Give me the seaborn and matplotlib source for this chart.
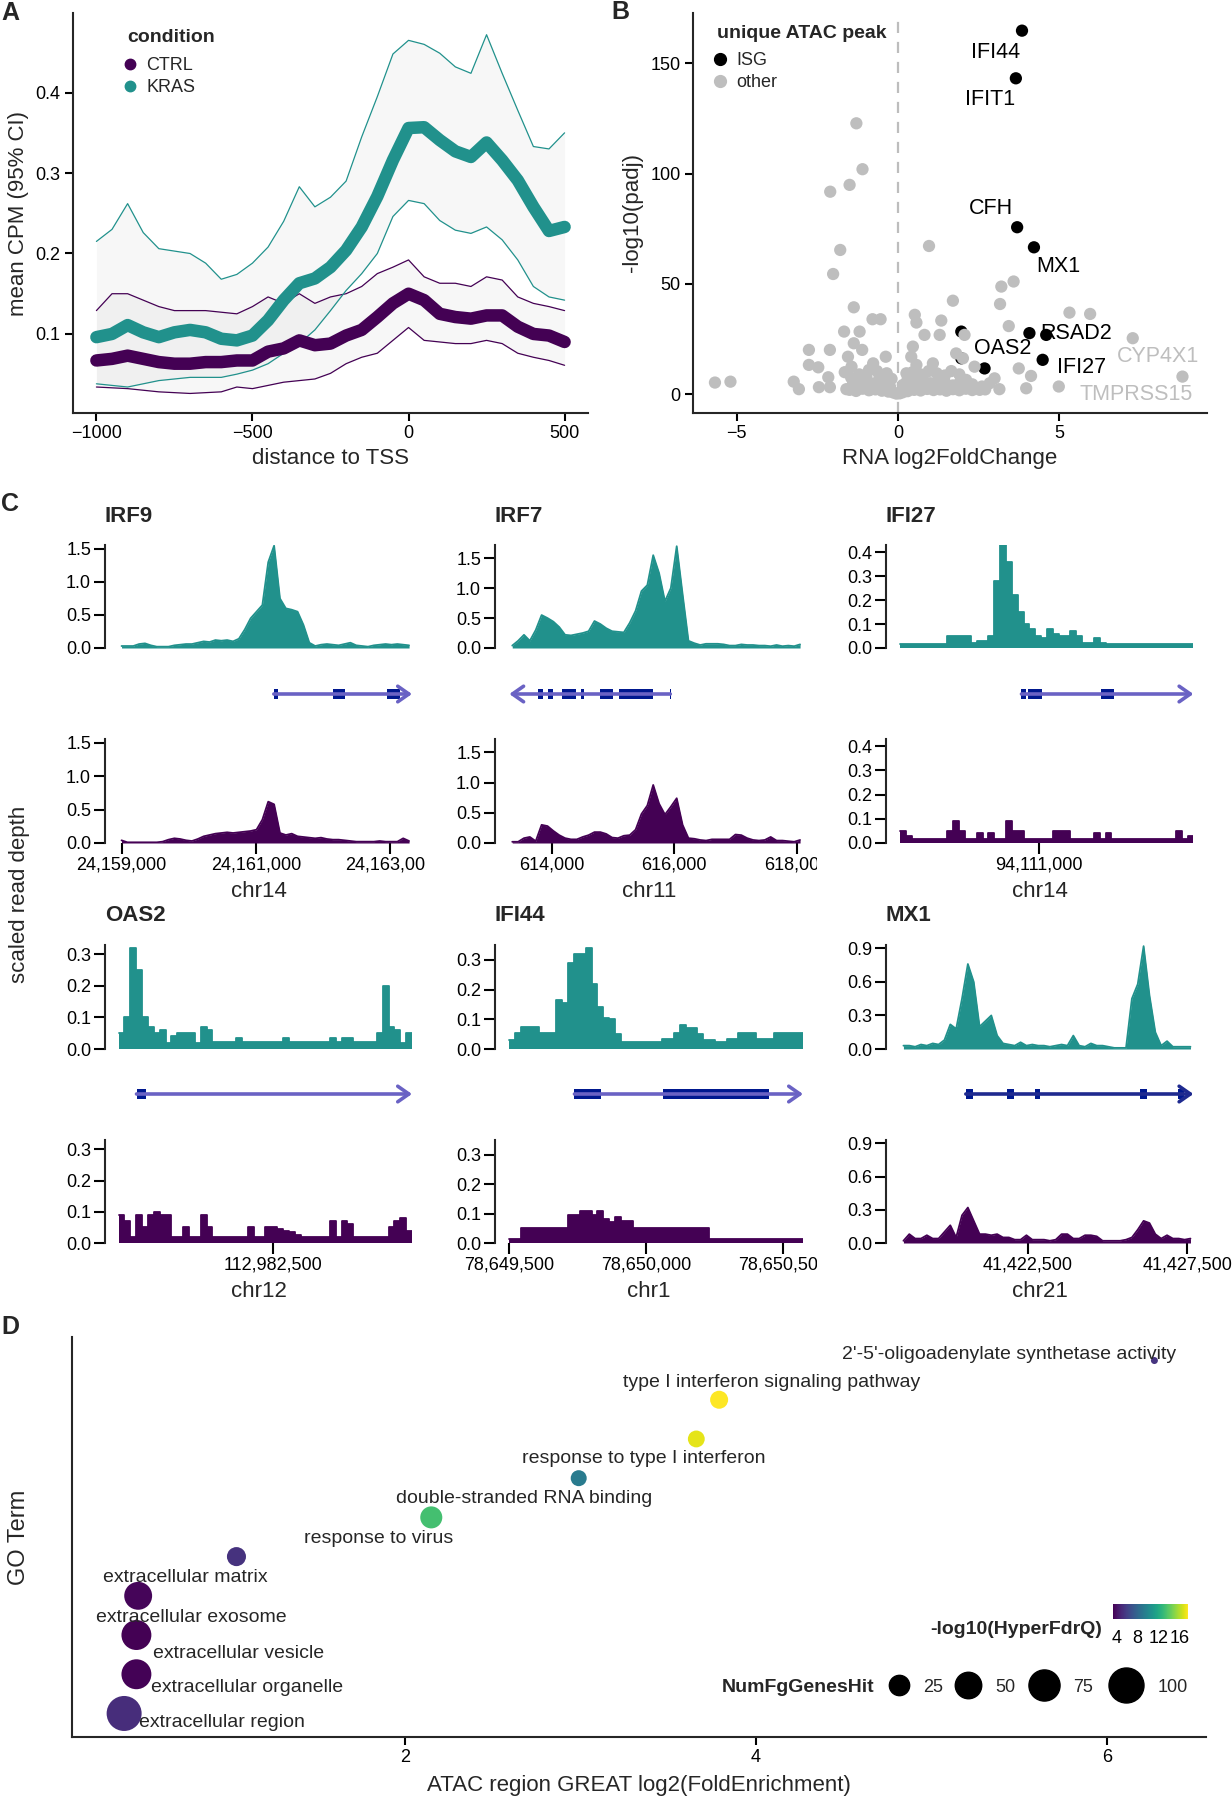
import numpy as np
import pandas as pd
import matplotlib
matplotlib.use("Agg")
import matplotlib.pyplot as plt
import seaborn as sns
from matplotlib.lines import Line2D
from matplotlib.colors import Normalize
from matplotlib.colorbar import ColorbarBase
from matplotlib.ticker import FuncFormatter
from matplotlib.transforms import Bbox, TransformedBbox

# ---------------- panel A: ATAC signal around TSS ----------------
tss_pos = list(range(-1000, 501, 50))
kras_mean = [0.096, 0.100, 0.111, 0.102, 0.096, 0.102, 0.105, 0.102, 0.094, 0.092, 0.098,
             0.117, 0.142, 0.163, 0.169, 0.183, 0.204, 0.233, 0.271, 0.316, 0.356,
             0.357, 0.341, 0.327, 0.320, 0.338, 0.316, 0.291, 0.258, 0.228, 0.233]
kras_hi = [0.215, 0.230, 0.262, 0.226, 0.206, 0.203, 0.200, 0.188, 0.168, 0.174, 0.188,
           0.208, 0.240, 0.283, 0.258, 0.270, 0.290, 0.345, 0.395, 0.448, 0.465,
           0.460, 0.449, 0.432, 0.424, 0.472, 0.424, 0.378, 0.333, 0.330, 0.350]
kras_lo = [0.038, 0.036, 0.034, 0.038, 0.042, 0.044, 0.046, 0.046, 0.046, 0.050, 0.055,
           0.063, 0.076, 0.088, 0.105, 0.129, 0.154, 0.175, 0.200, 0.246, 0.266,
           0.262, 0.241, 0.229, 0.225, 0.233, 0.217, 0.192, 0.159, 0.146, 0.142]
ctrl_mean = [0.067, 0.069, 0.073, 0.069, 0.065, 0.063, 0.063, 0.065, 0.065, 0.067, 0.067,
             0.078, 0.082, 0.092, 0.086, 0.088, 0.098, 0.105, 0.121, 0.138, 0.150,
             0.142, 0.125, 0.121, 0.119, 0.123, 0.123, 0.109, 0.100, 0.098, 0.090]
ctrl_hi = [0.129, 0.150, 0.150, 0.142, 0.134, 0.129, 0.129, 0.129, 0.127, 0.125, 0.134,
           0.146, 0.138, 0.150, 0.138, 0.146, 0.150, 0.159, 0.175, 0.183, 0.192,
           0.171, 0.163, 0.163, 0.159, 0.171, 0.167, 0.146, 0.138, 0.134, 0.129]
ctrl_lo = [0.034, 0.033, 0.032, 0.030, 0.028, 0.027, 0.026, 0.027, 0.028, 0.034, 0.032,
           0.036, 0.040, 0.042, 0.044, 0.051, 0.063, 0.071, 0.076, 0.092, 0.108,
           0.092, 0.090, 0.088, 0.088, 0.092, 0.088, 0.076, 0.071, 0.067, 0.061]

# ---------------- panel B: volcano ----------------
isg_lfc = [3.84, 3.65, 3.69, 4.21, 4.07, 4.59, 4.48, 2.68, 1.96, 1.96]
isg_padj = [164.8, 143.2, 75.7, 66.6, 27.7, 26.9, 15.6, 11.7, 28.4, 16.3]
other_lfc = [-1.29, -1.10, -1.50, -2.10, -1.79, 0.96,
             -5.67, -5.19, -3.23, -3.07, -2.45, -2.11, -2.16, -2.76, -2.11, -2.76, -2.47,
             -2.01, -1.37, -0.79, -0.54, -1.67, -1.19, -1.37, -1.55, -1.11, -1.44, -0.77,
             -0.38, -0.98, -0.57, -1.29, -1.60, -0.88, -0.36, 0.52, 0.57, 1.34, 1.70, 0.82,
             1.29, 0.46, 0.41, 0.57, 1.08, 0.26, 0.67, 0.15, 0.88, 1.29, 1.60, 1.80, 2.01,
             2.06, 2.37, 2.11, 2.53, 2.99, 3.14, 2.84, 3.20, 3.58, 3.16, 3.43, 3.74, 4.12,
             3.97, 4.98, 5.31, 5.95, 7.27, 8.81,
             -1.5, -1.3, -1.1, -0.9, -0.7, -0.5, -0.3, -0.15, -0.05, 0.05, 0.15, 0.3, 0.5,
             0.7, 0.9, 1.1, 1.3, 1.5, 1.7, 1.9, 2.1, 2.3, 2.7,
             -1.4, -1.1, -0.8, -0.6, -0.45, -0.25, 0.25, 0.4, 0.6, 0.8, 1.0, 1.2, 1.45, 1.7,
             1.9, 2.3, 2.6,
             -1.2, -0.9, -0.65, -0.35, -0.2, 0.3, 0.45, 0.7, 0.95, 1.2, 1.45, 1.65, 1.9,
             -1.45, -1.65]
other_padj = [122.8, 102.0, 94.9, 91.8, 65.4, 67.2,
              5.3, 5.7, 5.7, 2.3, 3.2, 3.2, 7.7, 20.1, 20.1, 13.3, 12.2,
              54.5, 39.4, 34.0, 34.0, 28.4, 28.4, 23.1, 17.0, 20.1, 12.5, 14.0,
              17.0, 8.0, 8.0, 5.0, 2.3, 2.0, 2.0, 36.0, 32.5, 33.4, 42.4, 26.9,
              26.9, 21.6, 17.0, 13.3, 14.0, 9.5, 6.5, 4.2, 3.5, 6.5, 3.5, 18.5, 16.3,
              26.9, 12.5, 6.5, 2.0, 7.2, 2.3, 5.0, 48.8, 51.1, 40.9, 30.9, 11.7, 8.3,
              2.7, 3.5, 37.0, 36.4, 25.4, 8.0,
              2.0, 1.5, 2.5, 1.8, 2.2, 1.6, 1.2, 0.8, 0.3, 0.4, 0.9, 1.4, 2.0,
              1.7, 2.4, 1.9, 2.2, 1.6, 2.3, 1.8, 2.5, 1.9, 2.2,
              4.5, 5.5, 4.8, 6.0, 5.0, 3.5, 3.0, 5.5, 4.0, 6.0, 5.0, 4.5, 5.5, 4.0,
              5.0, 4.5, 3.5,
              9.0, 11.0, 10.5, 9.5, 7.0, 7.0, 10.0, 9.0, 10.5, 9.5, 8.5, 10.5, 9.0,
              7.5, 10.0]
volcano_labels = ["IFI44", "IFIT1", "CFH", "MX1", "RSAD2", "OAS2", "IFI27", "CYP4X1", "TMPRSS15"]
volcano_label_isg = [True, True, True, True, True, True, True, False, False]

# ---------------- panel C: coverage tracks (50 bins each) ----------------
irf9_kras = [0.03, 0.03, 0.03, 0.06, 0.07, 0.04, 0.02, 0.02, 0.02, 0.04,
             0.05, 0.06, 0.06, 0.08, 0.10, 0.09, 0.12, 0.11, 0.12, 0.10,
             0.14, 0.28, 0.45, 0.55, 0.65, 1.30, 1.55, 0.75, 0.60, 0.58,
             0.55, 0.35, 0.08, 0.03, 0.05, 0.06, 0.05, 0.04, 0.06, 0.08,
             0.04, 0.03, 0.02, 0.04, 0.05, 0.06, 0.05, 0.06, 0.05, 0.04]
irf9_ctrl = [0.04, 0.01, 0.01, 0.01, 0.01, 0.01, 0.01, 0.02, 0.05, 0.07,
             0.06, 0.04, 0.03, 0.06, 0.10, 0.12, 0.14, 0.15, 0.16, 0.15,
             0.16, 0.17, 0.18, 0.20, 0.35, 0.62, 0.58, 0.15, 0.12, 0.14,
             0.10, 0.09, 0.08, 0.07, 0.08, 0.06, 0.05, 0.05, 0.04, 0.03,
             0.02, 0.02, 0.02, 0.02, 0.03, 0.02, 0.02, 0.02, 0.07, 0.03]
irf7_kras = [0.04, 0.12, 0.22, 0.12, 0.30, 0.55, 0.50, 0.44, 0.35, 0.22,
             0.21, 0.23, 0.25, 0.28, 0.45, 0.40, 0.33, 0.28, 0.27, 0.26,
             0.42, 0.62, 0.95, 1.05, 1.55, 1.25, 0.78, 1.00, 1.70, 0.90,
             0.12, 0.08, 0.05, 0.07, 0.07, 0.07, 0.06, 0.04, 0.04, 0.06,
             0.05, 0.05, 0.04, 0.04, 0.03, 0.05, 0.03, 0.04, 0.03, 0.06]
irf7_ctrl = [0.02, 0.02, 0.08, 0.10, 0.03, 0.30, 0.28, 0.20, 0.13, 0.08,
             0.06, 0.06, 0.10, 0.13, 0.18, 0.18, 0.15, 0.09, 0.08, 0.12,
             0.13, 0.22, 0.48, 0.62, 0.96, 0.65, 0.47, 0.60, 0.74, 0.30,
             0.08, 0.07, 0.05, 0.04, 0.06, 0.06, 0.06, 0.06, 0.14, 0.13,
             0.08, 0.05, 0.04, 0.05, 0.10, 0.04, 0.04, 0.03, 0.02, 0.05]
ifi27_kras = [0.015, 0.015, 0.015, 0.015, 0.015, 0.015, 0.015, 0.015, 0.05, 0.05,
              0.05, 0.05, 0.02, 0.03, 0.03, 0.05, 0.28, 0.43, 0.36, 0.22,
              0.15, 0.10, 0.08, 0.05, 0.04, 0.08, 0.06, 0.05, 0.05, 0.07,
              0.05, 0.02, 0.02, 0.04, 0.02, 0.015, 0.015, 0.015, 0.015, 0.015,
              0.015, 0.015, 0.015, 0.015, 0.015, 0.015, 0.015, 0.015, 0.015, 0.015]
ifi27_ctrl = [0.05, 0.03, 0.015, 0.015, 0.015, 0.015, 0.015, 0.015, 0.05, 0.09,
              0.05, 0.015, 0.015, 0.04, 0.015, 0.04, 0.015, 0.015, 0.09, 0.05,
              0.05, 0.015, 0.015, 0.015, 0.015, 0.015, 0.05, 0.05, 0.05, 0.015,
              0.015, 0.015, 0.015, 0.04, 0.015, 0.04, 0.015, 0.015, 0.015, 0.015,
              0.015, 0.015, 0.015, 0.015, 0.015, 0.015, 0.015, 0.05, 0.015, 0.03]
oas2_kras = [0.05, 0.10, 0.32, 0.25, 0.10, 0.07, 0.05, 0.06, 0.02, 0.04,
             0.05, 0.05, 0.05, 0.02, 0.07, 0.06, 0.023, 0.023, 0.023, 0.023,
             0.035, 0.023, 0.023, 0.023, 0.023, 0.023, 0.023, 0.023, 0.035, 0.023,
             0.023, 0.023, 0.023, 0.023, 0.023, 0.023, 0.035, 0.023, 0.035, 0.035,
             0.023, 0.023, 0.023, 0.023, 0.05, 0.20, 0.07, 0.06, 0.02, 0.05]
oas2_ctrl = [0.09, 0.07, 0.02, 0.09, 0.05, 0.09, 0.10, 0.09, 0.09, 0.02,
             0.02, 0.05, 0.02, 0.02, 0.09, 0.05, 0.02, 0.02, 0.02, 0.02,
             0.02, 0.02, 0.05, 0.02, 0.02, 0.05, 0.05, 0.045, 0.04, 0.035,
             0.025, 0.02, 0.02, 0.02, 0.02, 0.02, 0.07, 0.02, 0.07, 0.06,
             0.02, 0.02, 0.02, 0.02, 0.02, 0.02, 0.05, 0.07, 0.08, 0.04]
ifi44_kras = [0.03, 0.055, 0.075, 0.075, 0.075, 0.055, 0.055, 0.055, 0.165, 0.155,
              0.29, 0.32, 0.32, 0.34, 0.22, 0.14, 0.105, 0.10, 0.05, 0.025,
              0.025, 0.025, 0.025, 0.025, 0.025, 0.025, 0.035, 0.035, 0.055, 0.08,
              0.07, 0.07, 0.05, 0.03, 0.03, 0.025, 0.025, 0.035, 0.035, 0.055,
              0.055, 0.055, 0.035, 0.035, 0.035, 0.055, 0.055, 0.055, 0.055, 0.055]
ifi44_ctrl = [0.015, 0.015, 0.05, 0.05, 0.05, 0.05, 0.05, 0.05, 0.05, 0.05,
              0.095, 0.095, 0.11, 0.11, 0.095, 0.11, 0.08, 0.07, 0.09, 0.075,
              0.075, 0.05, 0.05, 0.05, 0.05, 0.05, 0.05, 0.05, 0.05, 0.05,
              0.05, 0.05, 0.05, 0.05, 0.015, 0.015, 0.015, 0.015, 0.015, 0.015,
              0.015, 0.015, 0.015, 0.015, 0.015, 0.015, 0.015, 0.015, 0.015, 0.015]
mx1_kras = [0.03, 0.03, 0.02, 0.04, 0.03, 0.05, 0.04, 0.08, 0.22, 0.18,
            0.45, 0.76, 0.60, 0.20, 0.25, 0.30, 0.12, 0.05, 0.04, 0.03,
            0.06, 0.03, 0.04, 0.03, 0.03, 0.02, 0.03, 0.04, 0.03, 0.12,
            0.03, 0.02, 0.05, 0.03, 0.03, 0.02, 0.01, 0.01, 0.01, 0.45,
            0.58, 0.92, 0.48, 0.15, 0.03, 0.07, 0.02, 0.02, 0.02, 0.02]
mx1_ctrl = [0.02, 0.08, 0.04, 0.04, 0.07, 0.04, 0.04, 0.10, 0.16, 0.05,
            0.25, 0.32, 0.20, 0.08, 0.08, 0.07, 0.08, 0.05, 0.05, 0.03,
            0.03, 0.07, 0.03, 0.03, 0.03, 0.02, 0.03, 0.08, 0.08, 0.04,
            0.04, 0.07, 0.07, 0.06, 0.02, 0.02, 0.02, 0.02, 0.03, 0.05,
            0.12, 0.20, 0.18, 0.08, 0.04, 0.07, 0.04, 0.04, 0.03, 0.04]

track_genes = ["IRF9", "IRF7", "IFI27", "OAS2", "IFI44", "MX1"]
track_chrom = ["chr14", "chr11", "chr14", "chr12", "chr1", "chr21"]
track_start = [24158954, 613308, 94107000, 112978000, 78649500, 41418509]
track_end = [24163320, 618098, 94115457, 112986571, 78650573, 41427688]
track_xticks = [[24159000, 24161000, 24163000], [614000, 616000, 618000], [94111000],
                [112982500], [78649500, 78650000, 78650500], [41422500, 41427500]]
track_yticks = [[0, 0.5, 1.0, 1.5], [0, 0.5, 1.0, 1.5], [0, 0.1, 0.2, 0.3, 0.4],
                [0, 0.1, 0.2, 0.3], [0, 0.1, 0.2, 0.3], [0, 0.3, 0.6, 0.9]]
track_ymax = [1.56, 1.72, 0.43, 0.33, 0.35, 0.93]
track_kras = [irf9_kras, irf7_kras, ifi27_kras, oas2_kras, ifi44_kras, mx1_kras]
track_ctrl = [irf9_ctrl, irf7_ctrl, ifi27_ctrl, oas2_ctrl, ifi44_ctrl, mx1_ctrl]

irf9_exons = [(24161264, 24161333), (24162146, 24162316), (24162949, 24163137)]
irf7_exons = [(613782, 613854), (613945, 614027), (614175, 614395), (614477, 614520),
              (614788, 614994), (615095, 615646), (615923, 615943)]
ifi27_exons = [(94110493, 94110628), (94110687, 94111085), (94112776, 94113165)]
oas2_exons = [(112978523, 112978789)]
ifi44_exons = [(78649738, 78649834), (78650063, 78650449)]
mx1_exons = [(41420556, 41420795), (41421841, 41422061), (41422731, 41422887),
             (41426026, 41426247), (41427220, 41427403)]
gene_exons = [irf9_exons, irf7_exons, ifi27_exons, oas2_exons, ifi44_exons, mx1_exons]
gene_span = [(24161264, 24163320), (613308, 615933), (94110493, 94115457),
             (112978523, 112986571), (78649738, 78650573), (41420556, 41427688)]
gene_strand = ["+", "-", "+", "+", "+", "+"]

# ---------------- panel D: GREAT GO enrichment ----------------
go_terms = ["extracellular region", "extracellular organelle", "extracellular vesicle",
            "extracellular exosome", "extracellular matrix", "response to virus",
            "double-stranded RNA binding", "response to type I interferon",
            "type I interferon signaling pathway", "2'-5'-oligoadenylate synthetase activity"]
go_log2fe = [0.40, 0.47, 0.47, 0.48, 1.04, 2.15, 2.99, 3.66, 3.79, 6.27]
go_fdr = [5.2, 3.5, 3.4, 3.6, 5.4, 13.3, 9.2, 16.9, 17.5, 5.5]
go_hits = [100, 68, 68, 57, 21, 31, 13, 15, 18, 3]

# ---------------- figure ----------------
W_PX, H_PX = 1232, 1800
sns.set_style("ticks")
plt.rcParams["font.family"] = ["Liberation Sans", "DejaVu Sans"]
plt.rcParams["axes.linewidth"] = 1.5
plt.rcParams["xtick.major.width"] = 1.5
plt.rcParams["ytick.major.width"] = 1.5
plt.rcParams["xtick.color"] = "black"
plt.rcParams["ytick.color"] = "black"

fig = plt.figure(figsize=(W_PX / 100, H_PX / 100), dpi=100)

teal = "#21918c"
purple = "#440154"
pal = {"KRAS": teal, "CTRL": purple}


def px_axes(left, top, right, bottom):
    return fig.add_axes([left / W_PX, 1 - bottom / H_PX,
                         (right - left) / W_PX, (bottom - top) / H_PX])


def fig_xy(x, y):
    return (x / W_PX, 1 - y / H_PX)


def dot_legend(ax, labels, colors, title, x, y_title, y_first, msize):
    fig.text(*fig_xy(x, y_title), title, fontsize=14, fontweight="bold",
             ha="left", va="center")
    h = [Line2D([], [], ls="", marker="o", markersize=msize, color=c) for c in colors]
    ax.legend(h, labels, loc="upper left",
              bbox_to_anchor=fig_xy(x - 4, y_first - 11), bbox_transform=fig.transFigure,
              frameon=False, fontsize=13, handlelength=0.8, handletextpad=0.5,
              labelspacing=0.3, borderpad=0, borderaxespad=0)


# ----- A -----
ax = px_axes(73, 13, 588, 413)
n = len(tss_pos)
prof = pd.DataFrame({"dist": tss_pos * 2,
                     "cpm": kras_mean + ctrl_mean,
                     "lo": kras_lo + ctrl_lo,
                     "hi": kras_hi + ctrl_hi,
                     "condition": ["KRAS"] * n + ["CTRL"] * n})
for cond in ["KRAS", "CTRL"]:
    sub = prof[prof.condition == cond]
    ax.fill_between(sub.dist, sub.lo, sub.hi, color="0.5", alpha=0.06, lw=0)
for cond in ["CTRL", "KRAS"]:
    sub = prof[prof.condition == cond]
    sns.lineplot(data=sub, x="dist", y="lo", color=pal[cond], lw=0.9, ax=ax)
    sns.lineplot(data=sub, x="dist", y="hi", color=pal[cond], lw=0.9, ax=ax)
for cond in ["CTRL", "KRAS"]:
    sub = prof[prof.condition == cond]
    sns.lineplot(data=sub, x="dist", y="cpm", color=pal[cond], lw=9,
                 solid_capstyle="round", solid_joinstyle="round", ax=ax)
ax.set_xlim(-1075, 575)
ax.set_ylim(0.0017, 0.499)
ax.set_xticks([-1000, -500, 0, 500])
ax.set_yticks([0.1, 0.2, 0.3, 0.4])
ax.tick_params(labelsize=13, length=6, pad=3)
ax.set_xlabel("distance to TSS", fontsize=16, labelpad=4)
ax.set_ylabel("mean CPM (95% CI)", fontsize=16, labelpad=5)
sns.despine(ax=ax)
dot_legend(ax, ["CTRL", "KRAS"], [pal["CTRL"], pal["KRAS"]], "condition",
           127, 37, 68, 7.5)

# ----- B -----
ax = px_axes(693, 13, 1207, 413)
volc = pd.DataFrame({"lfc": isg_lfc + other_lfc,
                     "padj": isg_padj + other_padj,
                     "peak": ["ISG"] * len(isg_lfc) + ["other"] * len(other_lfc)})
ax.axvline(0, color="#bdbdbd", ls=(0, (5, 4)), lw=1.6, zorder=0)
sns.scatterplot(data=volc, x="lfc", y="padj", hue="peak",
                palette={"ISG": "black", "other": "#bebebe"},
                s=78, linewidth=0, legend=False, ax=ax)
label_pos = {"IFI44": (3.03, 155), "IFIT1": (2.84, 133.7), "CFH": (2.88, 84.3),
             "MX1": (4.95, 57.9), "RSAD2": (5.52, 27.7), "OAS2": (3.25, 20.9),
             "IFI27": (5.67, 12.2), "CYP4X1": (8.04, 17.0), "TMPRSS15": (7.37, -0.3)}
for g, isg in zip(volcano_labels, volcano_label_isg):
    lx, ly = label_pos[g]
    ax.text(lx, ly, g, fontsize=15.5, ha="center", va="center",
            color="black" if isg else "#bebebe")
ax.set_xlim(-6.35, 9.57)
ax.set_ylim(-8.5, 172.8)
ax.set_xticks([-5, 0, 5])
ax.set_yticks([0, 50, 100, 150])
ax.tick_params(labelsize=13, length=6, pad=3)
ax.set_xlabel("RNA log2FoldChange", fontsize=16, labelpad=4)
ax.set_ylabel("-log10(padj)", fontsize=16, labelpad=5)
sns.despine(ax=ax)
dot_legend(ax, ["ISG", "other"], ["black", "#bebebe"], "unique ATAC peak",
           717, 33, 63, 8.5)

# ----- C -----
col_spine = [105, 495, 886]
col_data = [(118.6, 412), (509.3, 803), (900.5, 1193.4)]
col_clip = [425, 817, 1232]
rows = [dict(title=516, top=(545, 648), gene=694, bot=(739, 843)),
        dict(title=916, top=(945, 1049), gene=1094, bot=(1140, 1243))]
track_step = [False, False, True, True, True, False]
comma = FuncFormatter(lambda v, p: f"{int(round(v)):,}")


def draw_track(ax, start, end, vals, color, ymax, yticks, step):
    nb = len(vals)
    w = (end - start) / nb
    if step:
        df = pd.DataFrame({"pos": start + w * np.arange(nb + 1),
                           "depth": list(vals) + [vals[-1]]})
        ax.fill_between(df.pos, df.depth, step="post", color=color, lw=0)
        sns.lineplot(data=df, x="pos", y="depth", drawstyle="steps-post", color=color,
                     lw=1.3, ax=ax)
    else:
        df = pd.DataFrame({"pos": start + w * (np.arange(nb) + 0.5), "depth": vals})
        ax.fill_between(df.pos, df.depth, color=color, lw=0)
        sns.lineplot(data=df, x="pos", y="depth", color=color, lw=1.3, ax=ax)
    ax.set_ylim(0, ymax)
    ax.set_yticks(yticks)
    ax.yaxis.set_major_formatter(FuncFormatter(lambda v, p: f"{v:.1f}"))
    ax.tick_params(axis="y", labelsize=13, length=8, pad=2)
    ax.set_ylabel("")
    for s in ["top", "right", "bottom"]:
        ax.spines[s].set_visible(False)


for i, gene in enumerate(track_genes):
    r, c = divmod(i, 3)
    row = rows[r]
    sx = col_spine[c]
    d0, d1 = col_data[c]
    start, end = track_start[i], track_end[i]
    pad = (end - start) * (d0 - sx) / (d1 - d0)
    xlim = (start - pad, end)

    ax_t = px_axes(sx, row["top"][0], d1, row["top"][1])
    draw_track(ax_t, start, end, track_kras[i], teal, track_ymax[i], track_yticks[i],
               track_step[i])
    ax_t.set_xlim(*xlim)
    ax_t.set_xticks([])
    ax_t.set_xlabel("")

    ax_b = px_axes(sx, row["bot"][0], d1, row["bot"][1])
    draw_track(ax_b, start, end, track_ctrl[i], purple, track_ymax[i], track_yticks[i],
               track_step[i])
    ax_b.set_xlim(*xlim)
    ax_b.set_xticks(track_xticks[i])
    ax_b.xaxis.set_major_formatter(comma)
    ax_b.tick_params(axis="x", labelsize=13, length=8, pad=2)
    ax_b.set_xlabel(track_chrom[i], fontsize=16, labelpad=5)
    clip = TransformedBbox(Bbox.from_extents(0, 0, col_clip[c] / W_PX, 1), fig.transFigure)
    for lab in ax_b.get_xticklabels():
        lab.set_clip_box(clip)
        lab.set_clip_on(True)

    ax_g = px_axes(sx, row["gene"] - 12, d1, row["gene"] + 12)
    ax_g.set_xlim(*xlim)
    ax_g.set_ylim(-1, 1)
    ax_g.axis("off")
    g0, g1 = gene_span[i]
    line_col = "#1f2a8f" if gene == "MX1" else "#6a62c4"
    if gene_strand[i] == "+":
        tail, head = g0, g1
    else:
        tail, head = g1, g0
    ax_g.annotate("", xy=(head, 0), xytext=(tail, 0),
                  arrowprops=dict(arrowstyle="->,head_length=0.5,head_width=0.35",
                                  color=line_col, lw=2.6, shrinkA=0, shrinkB=0,
                                  mutation_scale=16))
    ax_g.broken_barh([(a, b - a) for a, b in gene_exons[i]], (-0.42, 0.84),
                     color="#00188f", lw=0)

    fig.text(*fig_xy(sx, row["title"]), gene, fontsize=16, fontweight="bold",
             ha="left", va="center")

fig.text(*fig_xy(20, 894), "scaled read depth", rotation=90, fontsize=16,
         ha="center", va="center")

# ----- D -----
ax = px_axes(72, 1337, 1206, 1737)
go = pd.DataFrame({"term": go_terms, "fe": go_log2fe, "fdr": go_fdr, "hits": go_hits,
                   "rank": range(len(go_terms))})
hmin, hmax = min(go_hits), max(go_hits)


def hit_area(v):
    d_px = 7 + 28 * np.sqrt((v - hmin) / (hmax - hmin))
    return (d_px * 0.72) ** 2


fdr_norm = (3.4, 17.5)
sns.scatterplot(data=go, x="fe", y="rank", hue="fdr", palette="viridis", hue_norm=fdr_norm,
                size="hits", sizes={v: hit_area(v) for v in go_hits}, linewidth=0,
                legend=False, ax=ax, zorder=2)
go_label_pos = [(0.96, -0.23), (1.10, 0.67), (1.05, 1.54), (0.78, 2.46), (0.75, 3.46),
                (1.85, 4.46), (2.68, 5.49), (3.36, 6.49), (4.09, 8.43), (5.44, 9.15)]
for term, (lx, ly) in zip(go_terms, go_label_pos):
    ax.text(lx, ly, term, fontsize=14, ha="center", va="center", zorder=3)
ax.set_xlim(0.103, 6.564)
ax.set_ylim(-0.6, 9.6)
ax.set_xticks([2, 4, 6])
ax.set_yticks([])
ax.tick_params(axis="x", labelsize=13, length=6, pad=3)
ax.set_xlabel("ATAC region GREAT log2(FoldEnrichment)", fontsize=16, labelpad=6)
ax.set_ylabel("GO Term", fontsize=17, labelpad=30)
sns.despine(ax=ax)

# colour bar legend
cax = px_axes(1113, 1604, 1188, 1619)
cb = ColorbarBase(cax, cmap=plt.get_cmap("viridis"), norm=Normalize(*fdr_norm),
                  orientation="horizontal", ticks=[4, 8, 12, 16])
cb.outline.set_visible(False)
cax.tick_params(axis="x", direction="in", length=3, width=1, color="white",
                labelcolor="black", labelsize=13, pad=8, top=True)
fig.text(*fig_xy(1102, 1630), "-log10(HyperFdrQ)", fontsize=14, fontweight="bold",
         ha="right", va="center")

# size legend: one key per break, key width follows the dot size
size_breaks = [25, 50, 75, 100]
key_x = [899, 968, 1044, 1126]
for b, kx in zip(size_breaks, key_x):
    d_pt = np.sqrt(hit_area(b))
    d_px = d_pt / 0.72
    h = [Line2D([], [], ls="", marker="o", color="black", markersize=d_pt)]
    fig.legend(h, [str(b)], loc="center left",
               bbox_to_anchor=fig_xy(kx - d_px / 2, 1687), frameon=False, fontsize=13,
               handlelength=d_px / 18, handletextpad=0.75, borderpad=0, borderaxespad=0)
fig.text(*fig_xy(874, 1687), "NumFgGenesHit", fontsize=14, fontweight="bold",
         ha="right", va="center")

# panel letters
for letter, (x, y) in zip("ABCD", [(10, 13), (620, 12), (10, 504), (10, 1327)]):
    fig.text(*fig_xy(x, y), letter, fontsize=18, fontweight="bold", ha="center", va="center")

fig.savefig("out.png", dpi=100)
